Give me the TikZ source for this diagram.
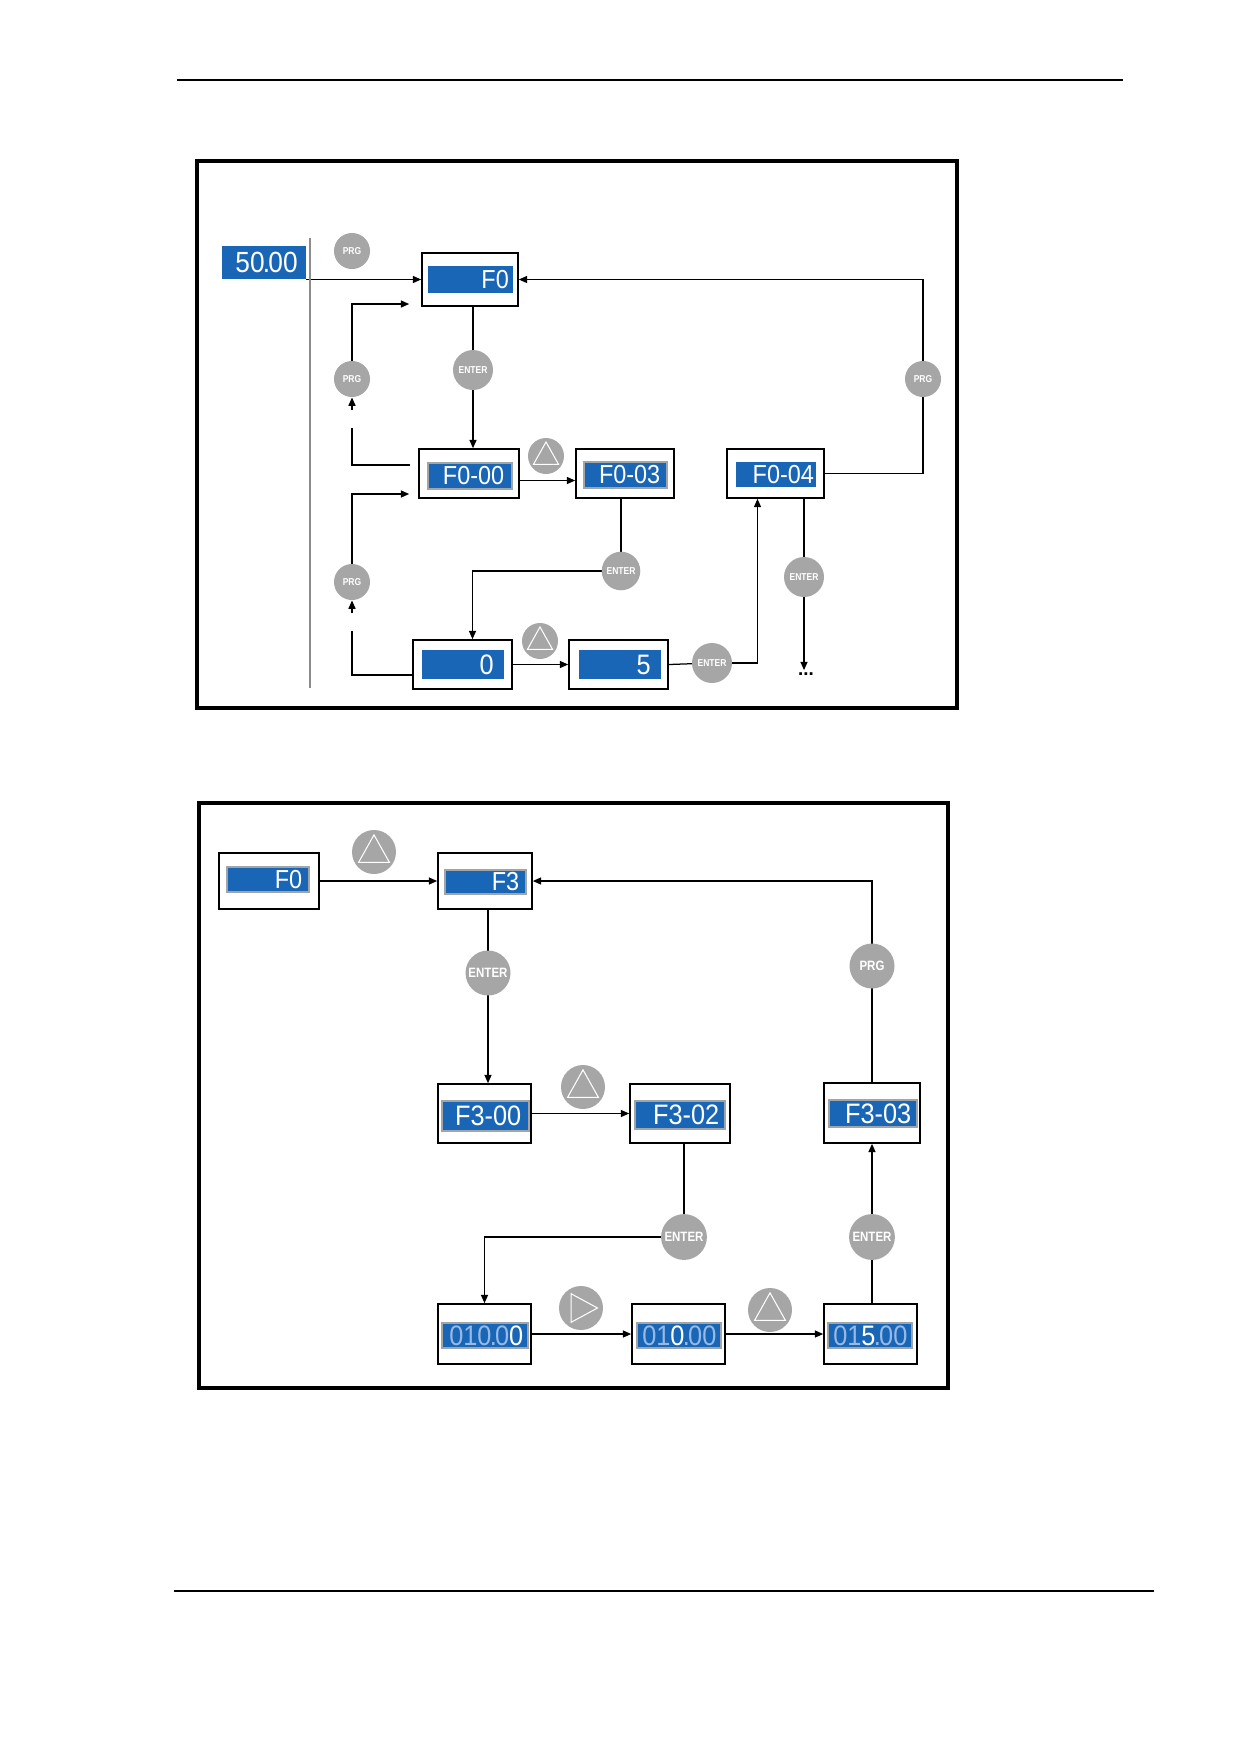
\documentclass[tikz,border=0pt]{standalone}
\usepackage{fontspec}
\setmainfont{Liberation Sans}
\newfontfamily\lcdfont[FakeStretch=0.9]{Liberation Sans}
\newfontfamily\btnfont[FakeStretch=0.85]{Liberation Sans}
\usetikzlibrary{arrows.meta,fit,calc}
\pgfdeclarelayer{bg}
\pgfdeclarelayer{paper}
\pgfsetlayers{paper,bg,main}
\definecolor{lcdblue}{RGB}{26,102,182}
\definecolor{lcddim}{RGB}{150,185,230}
\definecolor{btngray}{RGB}{166,166,166}
\definecolor{rimgray}{RGB}{160,165,170}
\newcommand\dotk{\kern-0.06em.\kern-0.06em}
\newcommand\uptri[4]{%
  \node[btn={#4*0.96pt}] (#1) at (#2,#3) {};
  \draw[white, line width=0.5pt] (#2,#3-0.78*#4) -- (#2+0.7*#4,#3+0.47*#4) -- (#2-0.7*#4,#3+0.47*#4) -- cycle;}
\newcommand\rttri[4]{%
  \node[btn={#4*0.96pt}] (#1) at (#2,#3) {};
  \draw[white, line width=0.5pt] (#2-0.45*#4,#3-0.65*#4) -- (#2+0.75*#4,#3) -- (#2-0.45*#4,#3+0.65*#4) -- cycle;}
\begin{document}
\begin{tikzpicture}[x=0.48pt,y=-0.48pt,
  frame/.style={line width=1.5pt},
  box/.style={draw, line width=0.8pt, inner sep=0pt, fill=white},
  disp/.style={fill=lcdblue, inner sep=0pt},
  rim/.style={disp, draw=rimgray, line width=0.9pt},
  lcd/.style={text=white, inner sep=0pt, anchor=east, font=\lcdfont\fontsize{#1}{#1}\selectfont},
  btn/.style={circle, fill=btngray, text=white, inner sep=0pt, minimum size=#1},
  btnl/.style={font=\btnfont\bfseries\fontsize{#1}{#1}\selectfont},
  conn/.style={line width=0.6pt},
  arr/.style={conn, -{Triangle[length=4pt,width=3.4pt]}}]
\begin{pgfonlayer}{paper}
\fill[white] (0,0) rectangle (1239,1754);
\end{pgfonlayer}
\useasboundingbox (0,0) rectangle (1239,1754);
% page rules
\draw[line width=0.7pt] (177,80) -- (1123,80);
\draw[line width=1.4pt] (174,1591) -- (1154,1591);

% ================= frame 1 =================
\draw[frame] (197,161) rectangle (957,708);
\draw[black!45, line width=0.5pt] (310,238) -- (310,688);

\node[disp, fit={(222,246) (306,279)}] (d5000) {};
\node[lcd=14] at ([xshift=-4pt]d5000.east) {50\dotk00};

\node[btn=17.3pt, btnl=4.8] (prg1) at (352,251) {PRG};

\node[box, fit={(422,253) (518,306)}] (f0) {};
\node[disp, fit={(428,266) (513,293)}] (f0d) {};
\node[lcd=12.5] at ([xshift=-2pt]f0d.east) {F0};

\node[btn=19.2pt, btnl=4.8] (ent1) at (473,370) {ENTER};
\node[btn=17.3pt, btnl=4.8] (prg2) at (352,379) {PRG};

\node[box, fit={(419,449) (519,498)}] (f000) {};
\node[rim, fit={(428,463) (512,489)}] (f000d) {};
\node[lcd=12.5] at ([xshift=-4pt]f000d.east) {F0-00};

\uptri{up1}{546}{456}{18}

\node[box, fit={(576,449) (674,498)}] (f003) {};
\node[rim, fit={(584,462) (667,488)}] (f003d) {};
\node[lcd=12.5] at ([xshift=-3.5pt]f003d.east) {F0-03};

\node[box, fit={(727,449) (824,498)}] (f04) {};
\node[disp, fit={(736,462) (816,487)}] (f04d) {};
\node[lcd=12.5] at ([xshift=-1pt]f04d.east) {F0-04};

\node[btn=17.3pt, btnl=4.8] (prg4) at (923,379) {PRG};
\node[btn=18.5pt, btnl=4.8] (ent2) at (621,571) {ENTER};
\node[btn=19.2pt, btnl=4.8] (ent4) at (804,577) {ENTER};
\node[btn=17.3pt, btnl=4.8] (prg3) at (352,582) {PRG};

\node[box, fit={(413,640) (512,689)}] (zero) {};
\node[disp, fit={(422,650) (504,679)}] (zerod) {};
\node[lcd=13.5] at ([xshift=-5pt]zerod.east) {0};

\uptri{up2}{540}{641}{18}

\node[box, fit={(569,640) (668,689)}] (s) {};
\node[disp, fit={(579,650) (661,679)}] (sd) {};
\node[lcd=13.5] at ([xshift=-5pt]sd.east) {5};

\node[btn=19.2pt, btnl=4.8] (ent3) at (712,663) {ENTER};
\node[font=\bfseries\fontsize{9}{9}\selectfont, inner sep=1pt] (dots) at (806,674) {...};

% ================= frame 2 =================
\draw[frame] (199,803) rectangle (948,1388);

\node[box, fit={(219,853) (319,909)}] (f0b) {};
\node[rim, fit={(227,867) (309,892)}] (f0bd) {};
\node[lcd=12.5] at ([xshift=-3.5pt]f0bd.east) {F0};

\uptri{up3}{374}{852}{22}

\node[box, fit={(438,853) (532,909)}] (f3) {};
\node[rim, fit={(445,870) (526,894)}] (f3d) {};
\node[lcd=12.5] at ([xshift=-3.5pt]f3d.east) {F3};

\node[btn=21.6pt, btnl=6.5] (ent5) at (488,973) {ENTER};
\node[btn=21.6pt, btnl=6.5] (prg5) at (872,966) {PRG};

\node[box, fit={(438,1084) (531,1143)}] (f300) {};
\node[rim, fit={(442,1101) (529,1131)}] (f300d) {};
\node[lcd=13.5] at ([xshift=-4pt]f300d.east) {F3-00};

\uptri{up4}{583}{1087}{22}

\node[box, fit={(630,1084) (730,1143)}] (f302) {};
\node[rim, fit={(635,1101) (725,1129)}] (f302d) {};
\node[lcd=13.5] at ([xshift=-3pt]f302d.east) {F3-02};

\node[box, fit={(824,1083) (920,1143)}] (f303) {};
\node[rim, fit={(829,1100) (917,1127)}] (f303d) {};
\node[lcd=13.5] at ([xshift=-3pt]f303d.east) {F3-03};

\node[btn=22pt, btnl=6.5] (ent6) at (684,1237) {ENTER};
\node[btn=22pt, btnl=6.5] (ent7) at (872,1237) {ENTER};

\node[box, fit={(438,1304) (531,1364)}] (b1) {};
\node[rim, fit={(442,1323) (528,1348)}] (b1d) {};
\node[lcd=13.5] at ([xshift=-2.5pt]b1d.east) {{\color{lcddim}010\dotk0}0};

\rttri{rt1}{581}{1308}{22}

\node[box, fit={(632,1304) (725,1364)}] (b2) {};
\node[rim, fit={(637,1323) (721,1348)}] (b2d) {};
\node[lcd=13.5] at ([xshift=-2.5pt]b2d.east) {{\color{lcddim}01}0{\color{lcddim}\dotk00}};

\uptri{up5}{770}{1310}{22}

\node[box, fit={(824,1304) (917,1364)}] (b3) {};
\node[rim, fit={(828,1323) (912,1348)}] (b3d) {};
\node[lcd=13.5] at ([xshift=-2.5pt]b3d.east) {{\color{lcddim}01}5{\color{lcddim}\dotk00}};

% ================= connectors =================
\begin{pgfonlayer}{bg}
\draw[arr] (d5000.east |- f0.west) -- (f0.west);
\draw[conn] (ent1.center |- f0.south) -- (ent1.center);
\draw[arr] (ent1.center) -- (ent1.center |- f000.north);
\draw[arr] ($(f000.east)+(0,7)$) -- ($(f003.west)+(0,7)$);
\draw[arr] (f04.east) -| (prg4.center) |- (f0.east);
\draw[conn] (ent2.center |- f003.south) -- (ent2.center);
\draw[arr] (ent2.center) -| ($(zero.north)+(10,0)$);
\draw[arr] (zero.east) -- (s.west);
\draw[conn] (s.east) -- (ent3.center);
\draw[arr] (ent3.center) -| ($(f04.south)+(-18,0)$);
\draw[conn] (ent4.center |- f04.south) -- (ent4.center);
\draw[arr] (ent4.center) -- (ent4.center |- dots.north);
\coordinate (ga) at (352,428);
\coordinate (gb) at (352,410);
\draw[conn] ($(f000.west)+(-8,-8.5)$) -| (ga);
\draw[arr] (gb) -- (prg2.south);
\draw[arr] (prg2.north) |- ($(f0.west)+(-12,24.5)$);
\coordinate (gc) at (352,631);
\coordinate (gd) at (352,613);
\draw[conn] ($(zero.west)+(0,10.5)$) -| (gc);
\draw[arr] (gd) -- (prg3.south);
\draw[arr] (prg3.north) |- ($(f000.west)+(-9,20.5)$);
% frame 2
\draw[arr] (f0b.east) -- (f3.west);
\draw[conn] (ent5.center |- f3.south) -- (ent5.center);
\draw[arr] (ent5.center) -- (ent5.center |- f300.north);
\draw[arr] (f300.east) -- (f302.west);
\draw[conn] (ent6.center |- f302.south) -- (ent6.center);
\draw[arr] (ent6.center) -| (b1.north);
\draw[arr] (b1.east) -- (b2.west);
\draw[arr] (b2.east) -- (b3.west);
\draw[conn] (ent7.center |- b3.north) -- (ent7.center);
\draw[arr] (ent7.center) -- (ent7.center |- f303.south);
\draw[arr] (f303.north) -- (prg5.center) |- (f3.east);
\end{pgfonlayer}
\end{tikzpicture}
\end{document}
